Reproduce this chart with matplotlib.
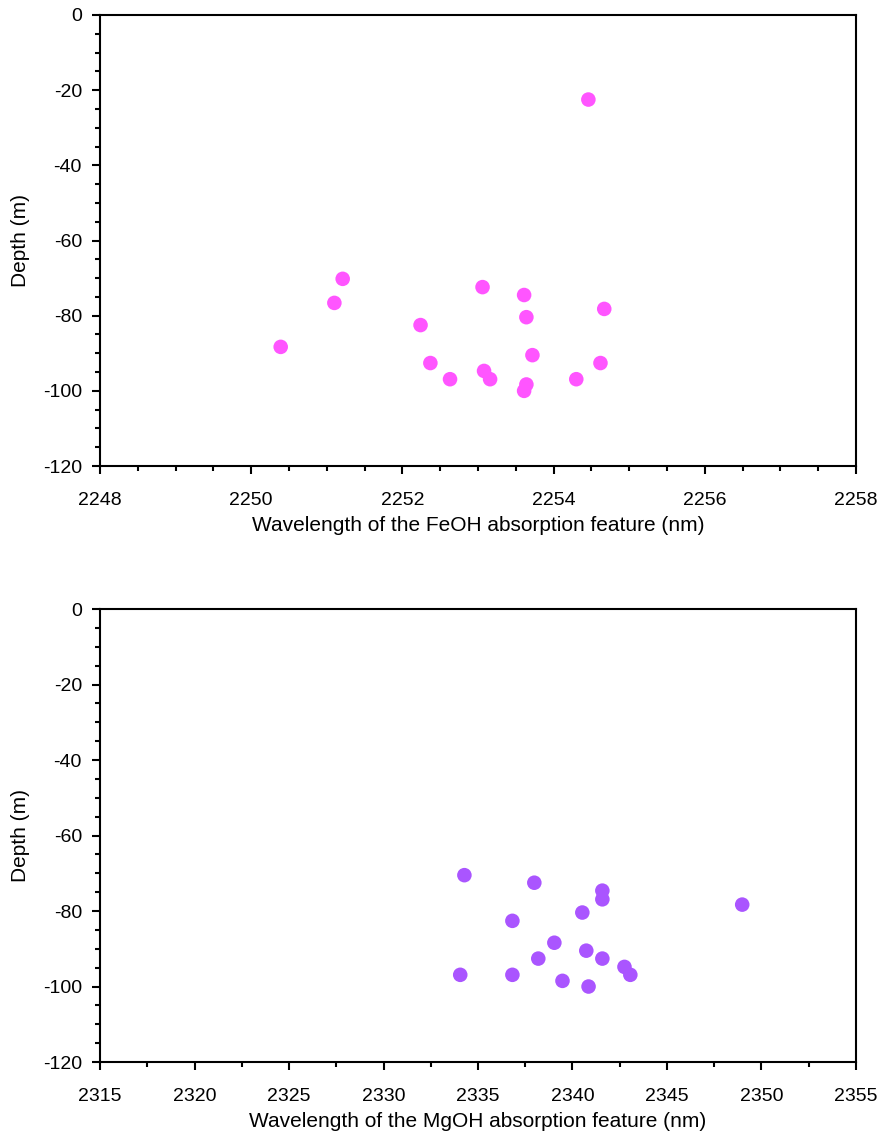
import numpy as np
import matplotlib.pyplot as plt
from matplotlib.ticker import MultipleLocator

plt.rcParams['font.family'] = ['Liberation Sans', 'DejaVu Sans']
plt.rcParams['axes.unicode_minus'] = False

# FeOH feature wavelength vs depth
feoh_wl = [2254.46, 2251.21, 2251.10, 2250.39, 2252.24, 2253.06, 2253.61, 2253.64, 2254.67,
           2253.72, 2252.37, 2252.63, 2253.08, 2253.16, 2253.64, 2253.61, 2254.30, 2254.62]
feoh_depth = [-22.5, -70.2, -76.6, -88.3, -82.5, -72.4, -74.5, -80.4, -78.2,
              -90.5, -92.6, -96.9, -94.7, -96.9, -98.3, -100.0, -96.9, -92.6]

# MgOH feature wavelength vs depth
mgoh_wl = [2334.28, 2337.98, 2341.58, 2341.58, 2340.52, 2348.98, 2336.82, 2339.04, 2340.73,
           2338.19, 2341.58, 2342.75, 2343.06, 2334.06, 2336.82, 2339.47, 2340.85]
mgoh_depth = [-70.5, -72.5, -74.6, -76.9, -80.4, -78.3, -82.6, -88.4, -90.5,
              -92.6, -92.6, -94.8, -96.9, -96.9, -96.9, -98.5, -100.0]

fig = plt.figure(figsize=(8.82, 11.35), dpi=100)
ax1 = fig.add_axes([0.1134, 0.5894, 0.8571, 0.3974])
ax2 = fig.add_axes([0.1134, 0.0643, 0.8571, 0.3991])


def style(ax, xlim, xmajor, xminor, xlabel):
    ax.set_xlim(*xlim)
    ax.set_ylim(-120, 0)
    ax.xaxis.set_major_locator(MultipleLocator(xmajor))
    ax.xaxis.set_minor_locator(MultipleLocator(xminor))
    ax.yaxis.set_major_locator(MultipleLocator(20))
    ax.yaxis.set_minor_locator(MultipleLocator(5))
    ax.tick_params(which='both', direction='out', width=1.5, labelsize=14,
                   top=False, right=False)
    ax.tick_params(which='major', length=6)
    ax.tick_params(which='minor', length=3.5)
    ax.tick_params(axis='x', which='major', pad=13)
    ax.tick_params(axis='y', which='major', pad=7)
    for s in ax.spines.values():
        s.set_linewidth(1.5)
    ax.set_xlabel(xlabel, fontsize=15, labelpad=5)
    ax.set_ylabel('Depth (m)', fontsize=15, labelpad=9)


ax1.scatter(feoh_wl, feoh_depth, s=110, color='#ff55ff', edgecolors='none', zorder=3)
style(ax1, (2248, 2258), 2, 0.5, 'Wavelength of the FeOH absorption feature (nm)')

ax2.scatter(mgoh_wl, mgoh_depth, s=110, color='#aa55ff', edgecolors='none', zorder=3)
style(ax2, (2315, 2355), 5, 2.5, 'Wavelength of the MgOH absorption feature (nm)')

fig.savefig('out.png', dpi=100)
